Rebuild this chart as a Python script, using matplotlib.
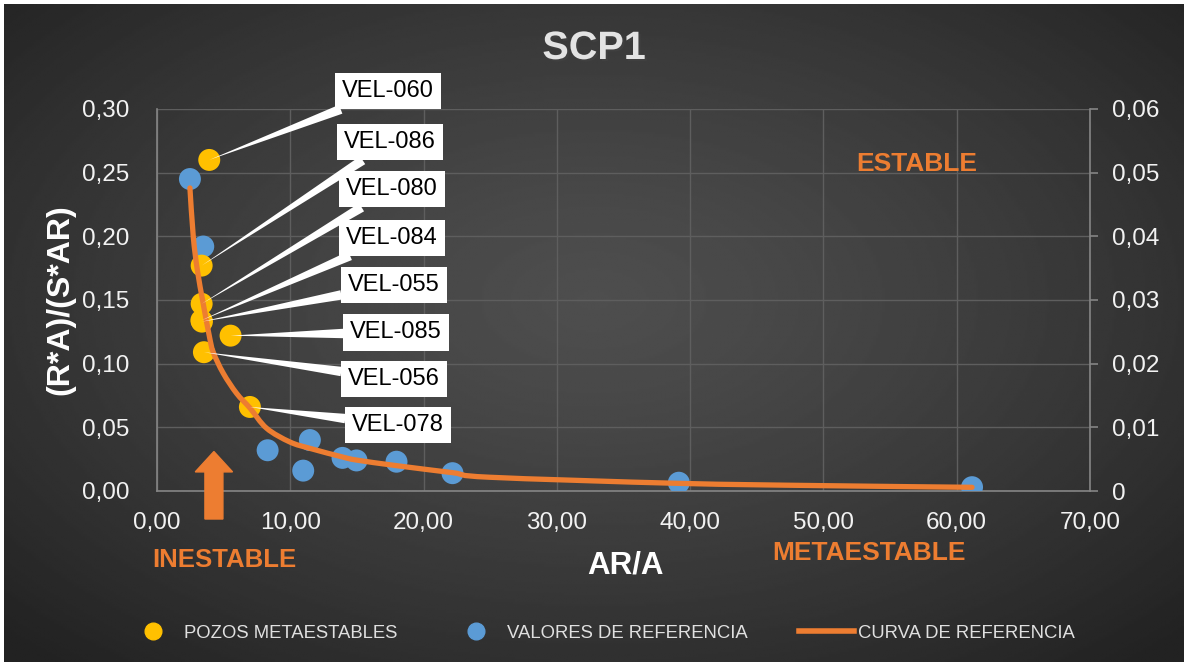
import numpy as np
import matplotlib
matplotlib.use('Agg')
import matplotlib.pyplot as plt
from matplotlib.patches import FancyArrow, PathPatch
from matplotlib.path import Path
from matplotlib.ticker import FuncFormatter
import matplotlib.patheffects as pe
from matplotlib.lines import Line2D

plt.rcParams['font.family'] = ['Liberation Sans', 'DejaVu Sans']

# pozos metaestables: AR/A vs (R*A)/(S*AR)
pozos = ['VEL-060', 'VEL-086', 'VEL-080', 'VEL-084', 'VEL-055', 'VEL-085', 'VEL-056', 'VEL-078']
pozos_x = [3.92, 3.35, 3.35, 3.33, 3.37, 5.52, 3.52, 6.97]
pozos_y = [0.260, 0.177, 0.147, 0.134, 0.133, 0.122, 0.109, 0.066]

# valores de referencia
ref_x = [2.47, 3.47, 8.30, 10.97, 11.47, 13.92, 14.97, 17.97, 22.17, 39.15, 61.15]
ref_y = [0.245, 0.192, 0.032, 0.016, 0.040, 0.026, 0.024, 0.023, 0.014, 0.0065, 0.003]

# curva de referencia
curva_x = [2.47, 2.72, 3.02, 3.47, 3.92, 4.22, 4.97, 5.97, 6.97, 8.22, 9.97,
           11.47, 13.92, 14.97, 17.97, 22.17, 24.96, 39.15, 49.95, 61.15]
curva_y = [0.238, 0.200, 0.174, 0.147, 0.122, 0.109, 0.0925, 0.0767, 0.0652, 0.0493, 0.0385,
           0.0335, 0.0267, 0.0243, 0.0199, 0.0144, 0.0108, 0.0060, 0.0042, 0.0029]

# donde van las etiquetas de los pozos
etq_x = [17.3, 17.5, 17.6, 17.6, 17.8, 17.95, 17.8, 18.1]
etq_y = [0.314, 0.274, 0.237, 0.199, 0.162, 0.1245, 0.088, 0.0518]

amarillo = '#FFC000'
azul = '#5B9BD5'
naranja = '#ED7D31'
claro = '#f2f2f2'


def linea_suave(xs, ys):
    # curva tipo "linea suavizada": tramos Bezier por Catmull-Rom
    p = np.column_stack([xs, ys])
    p = np.vstack([p[0], p, p[-1]])
    verts = [p[1]]
    codes = [Path.MOVETO]
    for i in range(1, len(p) - 2):
        c1 = p[i] + (p[i + 1] - p[i - 1]) / 6
        c2 = p[i + 1] - (p[i + 2] - p[i]) / 6
        verts += [c1, c2, p[i + 1]]
        codes += [Path.CURVE4] * 3
    return Path(verts, codes)


W, H = 1188, 665
fig = plt.figure(figsize=(W / 100, H / 100), dpi=100, facecolor='white')

# fondo oscuro con degradado radial
bg = fig.add_axes([4 / W, 3 / H, 1180 / W, 658 / H])
yy, xx = np.mgrid[-1:1:300j, -1:1:530j]
r = np.sqrt((xx * 1.0) ** 2 + ((yy + 0.1) * 0.95) ** 2)
shade = 78 - 44 * np.clip(r / 1.4, 0, 1) ** 1.3
bg.imshow(shade, cmap='gray', vmin=0, vmax=255, aspect='auto', interpolation='bilinear')
bg.axis('off')

ax = fig.add_axes([157 / W, 1 - 491 / H, (1090 - 157) / W, (491 - 109) / H])
ax.patch.set_visible(False)
ax.set_zorder(2)

ax.scatter(ref_x, ref_y, s=250, color=azul, zorder=3, edgecolors='none')
ax.scatter(pozos_x, pozos_y, s=250, color=amarillo, zorder=4, edgecolors='none')
ax.add_patch(PathPatch(linea_suave(curva_x, curva_y), fill=False, ec=naranja, lw=3.8,
                       capstyle='round', zorder=5))

for nom, px, py, tx, ty in zip(pozos, pozos_x, pozos_y, etq_x, etq_y):
    ax.annotate(nom, xy=(px, py), xytext=(tx, ty), ha='center', va='center',
                fontsize=17, color='black', annotation_clip=False, zorder=6,
                bbox=dict(boxstyle='square,pad=0.3', fc='white', ec='none'),
                arrowprops=dict(arrowstyle='wedge,tail_width=0.4,shrink_factor=0.5',
                                fc='white', ec='none', shrinkA=0, shrinkB=0))

ax.set_xlim(0, 70)
ax.set_ylim(0, 0.30)
ax.set_xticks(np.arange(0, 71, 10))
ax.set_yticks(np.arange(0, 0.301, 0.05))
ax.xaxis.set_major_formatter(FuncFormatter(lambda v, p: f'{v:.2f}'.replace('.', ',')))
ax.yaxis.set_major_formatter(FuncFormatter(lambda v, p: f'{v:.2f}'.replace('.', ',')))
ax.grid(True, color='#5e5e5e', lw=1)
ax.set_axisbelow(True)
ax.tick_params(axis='y', length=0, labelsize=17.5, colors=claro, pad=20)
ax.tick_params(axis='x', length=0, labelsize=17.5, colors=claro, pad=15)
for s in ['top', 'right']:
    ax.spines[s].set_visible(False)
for s in ['left', 'bottom']:
    ax.spines[s].set_color('#858585')
    ax.spines[s].set_linewidth(1.2)

ax2 = ax.twinx()
ax2.set_ylim(0, 0.06)
ax2.set_yticks(np.arange(0, 0.0601, 0.01))
ax2.yaxis.set_major_formatter(FuncFormatter(lambda v, p: '0' if v == 0 else f'{v:.2f}'.replace('.', ',')))
ax2.tick_params(axis='y', length=6, width=1.2, color='#858585', labelsize=17.5, colors=claro, pad=10)
for s in ['top', 'left', 'bottom']:
    ax2.spines[s].set_visible(False)
ax2.spines['right'].set_color('#858585')
ax2.spines['right'].set_linewidth(1.2)

# flecha de zona inestable
ax.add_patch(FancyArrow(4.27, -0.022, 0, 0.053, width=1.35, head_width=2.8,
                        head_length=0.016, length_includes_head=True,
                        color=naranja, clip_on=False, zorder=6))

fig.text(594 / W, 1 - 48 / H, 'SCP1', fontsize=28.5, fontweight='bold', color='#e3e3e3',
         ha='center', va='center',
         path_effects=[pe.withSimplePatchShadow(offset=(1.5, -1.5), alpha=0.6)])
fig.text(625 / W, 1 - 565 / H, 'AR/A', fontsize=22.5, fontweight='bold', color='white',
         ha='center', va='center')
fig.text(60 / W, 1 - 300 / H, '(R*A)/(S*AR)', fontsize=23, fontweight='bold', color='white',
         ha='center', va='center', rotation=90)
fig.text(224 / W, 1 - 560 / H, 'INESTABLE', fontsize=18.5, fontweight='bold', color=naranja,
         ha='center', va='center')
fig.text(869 / W, 1 - 553 / H, 'METAESTABLE', fontsize=19, fontweight='bold', color=naranja,
         ha='center', va='center')
fig.text(917 / W, 1 - 164 / H, 'ESTABLE', fontsize=19, fontweight='bold', color=naranja,
         ha='center', va='center')

handles = [Line2D([], [], ls='none', marker='o', ms=12, color=amarillo),
           Line2D([], [], ls='none', marker='o', ms=12, color=azul),
           Line2D([], [], color=naranja, lw=4)]
labels = ['POZOS METAESTABLES', 'VALORES DE REFERENCIA', 'CURVA DE REFERENCIA']
fig.legend(handles, labels, loc='center', bbox_to_anchor=(600 / W, 1 - 633 / H), ncol=3,
           frameon=False, fontsize=13.3, labelcolor='#e0e0e0', handlelength=3,
           handletextpad=0.2, columnspacing=2.75)

fig.savefig('out.png', dpi=100, facecolor=fig.get_facecolor())
